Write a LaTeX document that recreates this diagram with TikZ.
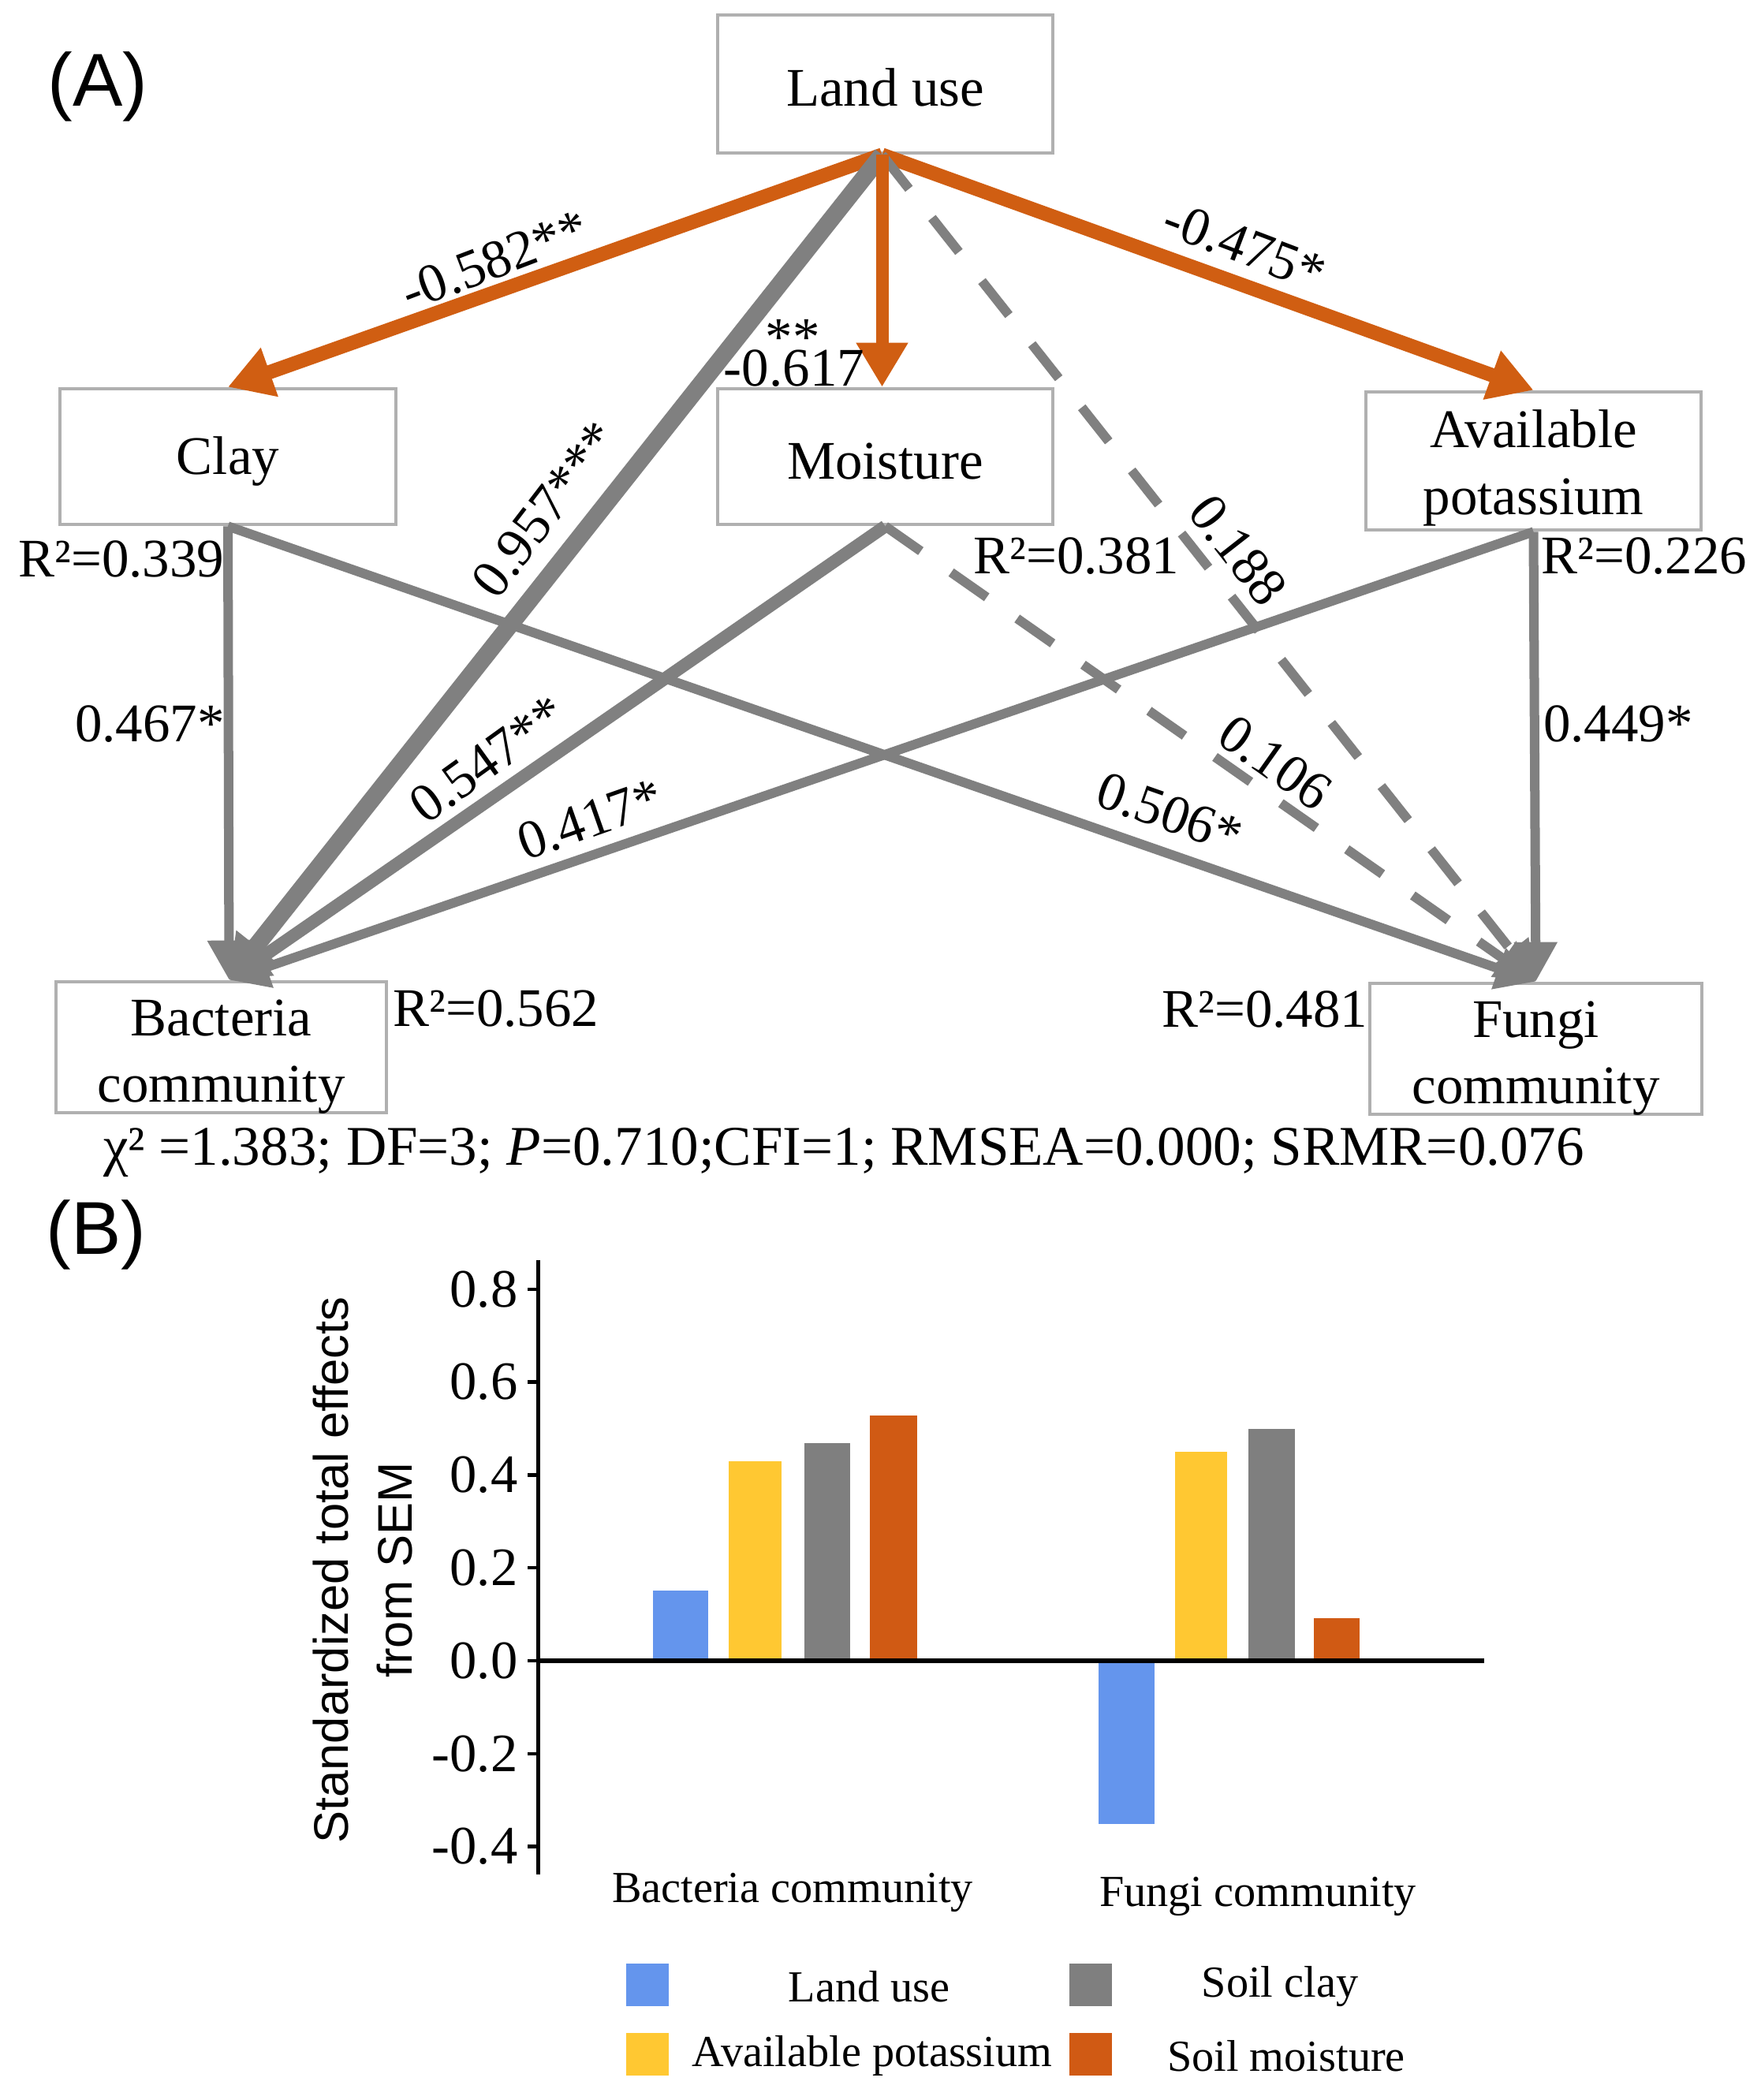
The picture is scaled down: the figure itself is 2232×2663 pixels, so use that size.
\documentclass[tikz,border=0pt]{standalone}
\usepackage{fontspec}
\setmainfont{Liberation Serif}
\setsansfont{Liberation Sans}
\usetikzlibrary{arrows.meta,calc}
\definecolor{orng}{RGB}{208,94,18}
\definecolor{lgray}{RGB}{128,128,128}
\definecolor{boxgray}{RGB}{176,176,176}
\definecolor{barblue}{RGB}{100,149,237}
\definecolor{baryellow}{RGB}{255,200,50}
\definecolor{bargray}{RGB}{127,127,127}
\definecolor{barorange}{RGB}{208,90,20}
\newcommand\fsMain{\fontsize{19.6pt}{24pt}\selectfont}
\newcommand\fsFit{\fontsize{20.2pt}{24pt}\selectfont}
\newcommand\fsTick{\fontsize{19.5pt}{22pt}\selectfont}
\newcommand\fsSmall{\fontsize{16pt}{19pt}\selectfont}
\newcommand\fsTitle{\sffamily\fontsize{17.5pt}{23pt}\selectfont}
\newcommand\fsPanel{\sffamily\fontsize{27pt}{30pt}\selectfont}
\begin{document}
\begin{tikzpicture}[x=0.01cm,y=-0.01cm,
  box/.style={draw=boxgray,line width=0.045cm,inner sep=0pt},
  boxtxt/.style={font=\fsMain,align=center,inner sep=0pt,yshift=-0.06cm},
  lbl/.style={inner sep=0pt,font=\fsMain},
  oarr/.style={draw=orng,line width=0.18cm,-{Triangle[length=0.56cm,width=0.62cm]},orng},
  garr/.style={draw=lgray,line width=0.12cm,-{Triangle[length=0.5cm,width=0.52cm]},lgray},
  darr/.style={garr,dash pattern=on 0.55cm off 0.47cm},
  tick/.style={line width=0.045cm},
  ticklbl/.style={anchor=east,inner sep=0pt,font=\fsTick},
  catlbl/.style={inner sep=0pt,font=\fsSmall},
  legsq/.style={minimum width=0.54cm,minimum height=0.54cm,inner sep=0pt}
]
\useasboundingbox (0,0) rectangle (2232,2663);

% panel labels
\node[inner sep=0pt,font=\fsPanel] (pA) at (124,110) {(A)};
\node[inner sep=0pt,font=\fsPanel] (pB) at (122,1566) {(B)};

% boxes
\node[box,minimum width=4.25cm,minimum height=1.75cm,label={[boxtxt,yshift=0.02cm]center:Land use}] (lu) at (1122.5,106.5) {};
\node[box,minimum width=4.26cm,minimum height=1.72cm,label={[boxtxt]center:Clay}] (clay) at (289,579) {};
\node[box,minimum width=4.25cm,minimum height=1.72cm,label={[boxtxt]center:Moisture}] (moist) at (1122.5,579) {};
\node[box,minimum width=4.25cm,minimum height=1.75cm,label={[boxtxt,yshift=-0.03cm]center:{Available\\potassium}}] (ak) at (1944.5,584.5) {};
\node[box,minimum width=4.19cm,minimum height=1.66cm,label={[boxtxt,yshift=-0.06cm]center:{Bacteria\\community}}] (bac) at (280.5,1328) {};
\node[box,minimum width=4.21cm,minimum height=1.66cm,label={[boxtxt,yshift=-0.06cm]center:{Fungi\\community}}] (fun) at (1947.5,1330) {};

\coordinate (luS) at ($(lu.south)+(-4,0)$);
\coordinate (bacT) at ($(bac.north)+(10,0)$);

% orange diagonal paths
\draw[oarr] (luS) -- (clay.north);
\draw[oarr] (luS) -- (ak.north);

% gray paths
\draw[darr] (moist.south) -- (fun.north);
\draw[darr] (luS) -- (fun.north);
\draw[garr] (clay.south) -- (fun.north);
\draw[garr] (ak.south) -- (fun.north);
\draw[garr] (clay.south) -- (bacT);
\draw[garr] (ak.south) -- (bacT);
\draw[garr,line width=0.16cm] (moist.south) -- (bacT);
\draw[garr,line width=0.22cm,-{Triangle[length=0.55cm,width=0.6cm]}] (luS) -- (bacT);

% orange vertical path
\draw[oarr,line width=0.16cm] (luS) -- (luS |- moist.north);

% path labels
\node[lbl,rotate=20.8] (l1) at (627,330) {-0.582**};
\node[lbl] (l2) at (1007,467) {-0.617};
\node[lbl] (l2s) at (1005,428) {**};
\node[lbl,rotate=-20.8] (l3) at (1578,312) {-0.475*};
\node[lbl,rotate=52.5] (l4) at (691,646) {0.957***};
\node[lbl,rotate=35.8] (l5) at (618,963) {0.547**};
\node[lbl,rotate=19.4] (l6) at (748,1039) {0.417*};
\node[lbl] (l7) at (190,918) {0.467*};
\node[lbl,rotate=-19.4] (l8) at (1483,1031) {0.506*};
\node[lbl,rotate=-35.3] (l9) at (1617,967) {0.106};
\node[lbl,rotate=-52] (l10) at (1570,698) {0.188};
\node[lbl] (l11) at (2052,918) {0.449*};

% R2 labels
\node[lbl] (r1) at (154,709) {R²=0.339};
\node[lbl] (r2) at (1365,705) {R²=0.381};
\node[lbl] (r3) at (2085,705) {R²=0.226};
\node[lbl] (r4) at (629,1279) {R²=0.562};
\node[lbl] (r5) at (1604,1280) {R²=0.481};

% fit statistics
\node[inner sep=0pt,font=\fsFit] (fit) at (1070,1461) {χ² =1.383; DF=3; \textit{P}=0.710;CFI=1; RMSEA=0.000; SRMR=0.076};

% ---------- panel B ----------
\fill[barblue]   (828,2106) rectangle (898,2017);
\fill[baryellow] (924,2106) rectangle (991,1853);
\fill[bargray]   (1020,2106) rectangle (1078,1830);
\fill[barorange] (1103,2106) rectangle (1163,1795);
\fill[barblue]   (1393,2106) rectangle (1464,2313);
\fill[baryellow] (1490,2106) rectangle (1556,1841);
\fill[bargray]   (1583,2106) rectangle (1642,1812);
\fill[barorange] (1666,2106) rectangle (1724,2052);

\draw[line width=0.05cm] (682,1598) -- (682,2377);
\draw[line width=0.055cm] (682,2106) -- (1882,2106);
\foreach \v/\t in {0.8/0.8,0.6/0.6,0.4/0.4,0.2/0.2,0/0.0,-0.2/-0.2,-0.4/-0.4}{
  \draw[tick] (669,{2106-589*\v}) -- (682,{2106-589*\v});
  \node[ticklbl] at (657,{2106-589*\v}) {\t};
}
\node[rotate=90,align=center,inner sep=0pt,font=\fsTitle] (ytitle) at (460,1991) {Standardized total effects\\from SEM};
\node[catlbl] (cat1) at (1005,2400) {Bacteria community};
\node[catlbl] (cat2) at (1595,2405) {Fungi community};

% legend
\node[legsq,fill=barblue] (lg1) at (821,2517) {};
\node[catlbl] (lt1) at (1102,2519) {Land use};
\node[legsq,fill=bargray] (lg2) at (1383,2517) {};
\node[catlbl] (lt2) at (1623,2519) {Soil clay};
\node[legsq,fill=baryellow] (lg3) at (821,2605) {};
\node[catlbl] (lt3) at (1106,2607) {Available potassium};
\node[legsq,fill=barorange] (lg4) at (1383,2605) {};
\node[catlbl] (lt4) at (1631,2607) {Soil moisture};
\end{tikzpicture}
\end{document}
